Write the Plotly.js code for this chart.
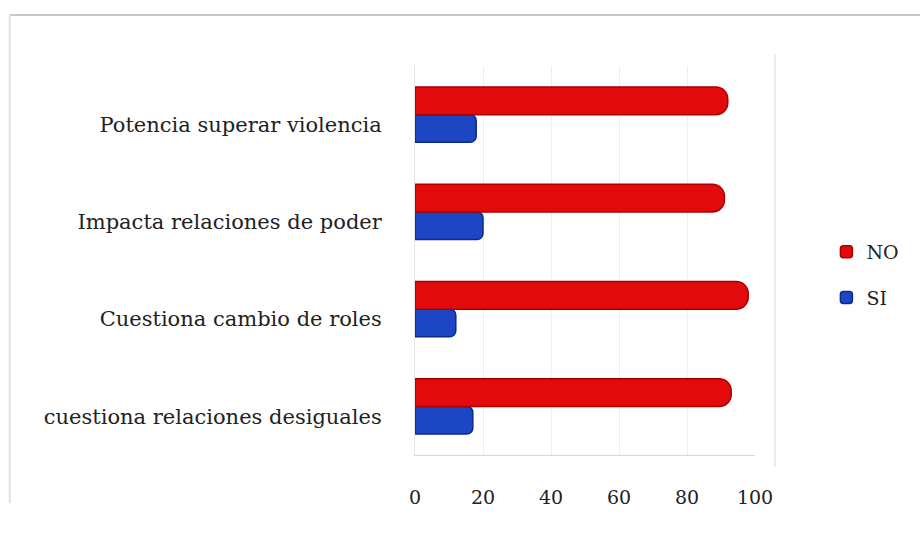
<!DOCTYPE html>
<html>
<head>
<meta charset="utf-8">
<script src="https://cdn.plot.ly/plotly-3.0.1.min.js"></script>
<style>html,body{margin:0;padding:0;background:#fff;}#chart{width:920px;height:538px;}</style>
</head>
<body>
<div id="chart"></div>
<script>
const categories = ["cuestiona relaciones desiguales", "Cuestiona cambio de roles", "Impacta relaciones de poder", "Potencia superar violencia"];
const noValues = [93, 98, 91, 92];
const siValues = [17, 12, 20, 18];
const xTicks = [0, 20, 40, 60, 80, 100];

const font = "'DejaVu Serif', serif";

const traces = [
  {
    type: "bar", orientation: "h", name: "SI", legendgroup: "si", legendrank: 2,
    y: categories, x: siValues,
    marker: {color: "#1c46c4", line: {color: "#0c2a8c", width: 1.5}, cornerradius: 6},
    hoverinfo: "x+name"
  },
  {
    type: "bar", orientation: "h", name: "NO", legendgroup: "no", legendrank: 1,
    y: categories, x: noValues,
    marker: {color: "#e20a0a", line: {color: "#a80000", width: 1.5}, cornerradius: 12},
    hoverinfo: "x+name"
  }
];

const layout = {
  width: 920, height: 538,
  paper_bgcolor: "#ffffff", plot_bgcolor: "#ffffff",
  margin: {l: 415, r: 165, t: 66, b: 83},
  barmode: "group", bargap: 0.43, bargroupgap: 0,
  font: {family: font, size: 18, color: "#222"},
  showlegend: true,
  legend: {x: 1.21, y: 0.463, xanchor: "left", yanchor: "middle", traceorder: "grouped",
           font: {family: font, size: 19, color: "#222"}, itemwidth: 30, tracegroupgap: 18},
  xaxis: {
    range: [0, 100], tickvals: xTicks, ticktext: xTicks.map(String),
    showgrid: true, gridcolor: "#eeeeee", zeroline: false,
    ticks: "outside", ticklen: 25, tickcolor: "rgba(0,0,0,0)",
    showline: true, linecolor: "#d8d8d8", linewidth: 1,
    tickfont: {family: font, size: 19, color: "#222"}, fixedrange: true
  },
  yaxis: {
    type: "category", categoryorder: "array", categoryarray: categories,
    showgrid: false, zeroline: false, showline: true, linecolor: "#e6e6e6",
    ticks: "outside", ticklen: 28, tickcolor: "rgba(0,0,0,0)", ticklabelshift: 10,
    tickfont: {family: font, size: 21, color: "#222"}, fixedrange: true
  },
  shapes: [
    {type: "line", xref: "paper", yref: "paper", x0: -1.192, x1: 1.6, y0: 1.131, y1: 1.131, line: {color: "#c8c8c8", width: 2}},
    {type: "line", xref: "paper", yref: "paper", x0: -1.192, x1: -1.192, y0: 1.131, y1: -0.123, line: {color: "#e2e2e2", width: 2}},
    {type: "line", xref: "paper", yref: "paper", x0: 1.059, x1: 1.059, y0: 1.03, y1: -0.03, line: {color: "#e4e4e4", width: 1.5}}
  ]
};

Plotly.newPlot("chart", traces, layout, {displayModeBar: false, staticPlot: true});
</script>
</body>
</html>
